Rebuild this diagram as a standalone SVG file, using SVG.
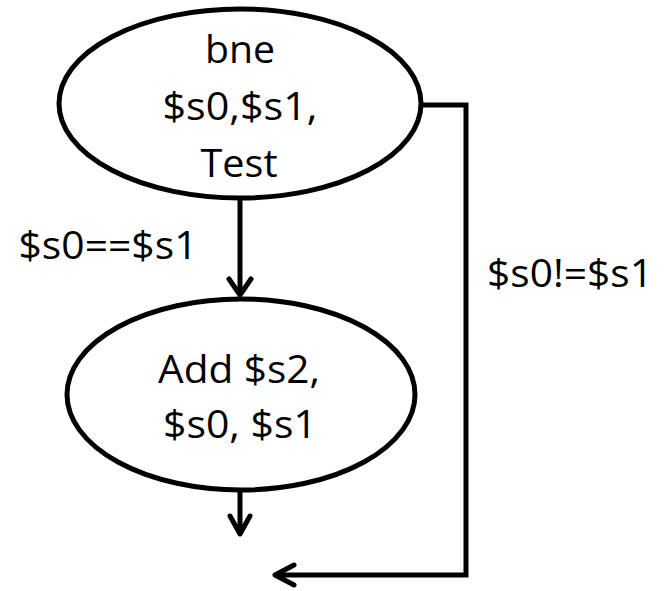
<svg xmlns="http://www.w3.org/2000/svg" width="671" height="591" viewBox="0 0 671 591">
<style>
.node ellipse{fill:#fff;stroke:#000;stroke-width:5}
.t{font-family:"Open Sans","Liberation Sans",sans-serif;font-size:38px;fill:#000;text-anchor:middle}
.c{fill:none;stroke:#000;stroke-width:5}
.ah{fill:none;stroke:#000;stroke-width:5;stroke-linecap:round;stroke-linejoin:round}
</style>
<rect width="671" height="591" fill="#fff"/>
<g id="connectors">
<line class="c" x1="240" y1="200" x2="240" y2="294"/>
<polyline class="ah" points="229,279 240,295 251,279"/>
<line class="c" x1="240" y1="492" x2="240" y2="533"/>
<polyline class="ah" points="230,516 240,534 250,516"/>
<polyline class="c" points="421,105 466,105 466,575 276,575" stroke-linejoin="miter"/>
<polyline class="ah" points="294,565 275,575 294,585"/>
<text class="t" x="108" y="259" textLength="179" lengthAdjust="spacingAndGlyphs">$s0==$s1</text>
<text class="t" x="570" y="287" textLength="166" lengthAdjust="spacingAndGlyphs">$s0!=$s1</text>
</g>
<g id="node-bne" class="node">
<ellipse cx="240" cy="103.5" rx="181" ry="94.5"/>
<text class="t" x="240" y="63" textLength="70" lengthAdjust="spacingAndGlyphs">bne</text>
<text class="t" x="240" y="120" textLength="155" lengthAdjust="spacingAndGlyphs">$s0,$s1,</text>
<text class="t" x="239" y="177" textLength="77" lengthAdjust="spacingAndGlyphs">Test</text>
</g>
<g id="node-add" class="node">
<ellipse cx="241" cy="394.5" rx="174" ry="95.5"/>
<text class="t" x="239" y="383" textLength="162" lengthAdjust="spacingAndGlyphs">Add $s2,</text>
<text class="t" x="240" y="438" textLength="154" lengthAdjust="spacingAndGlyphs">$s0, $s1</text>
</g>
</svg>
